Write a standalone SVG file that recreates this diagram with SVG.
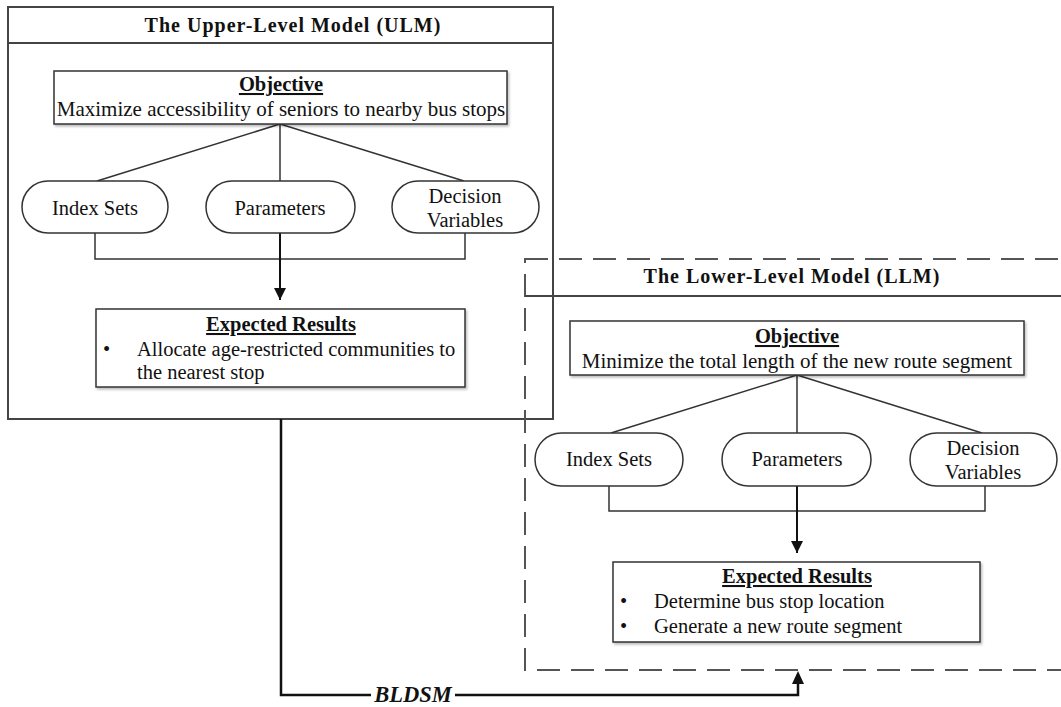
<svg xmlns="http://www.w3.org/2000/svg" width="1061" height="707" viewBox="0 0 1061 707">
<style>
text{font-family:"Liberation Serif","Times New Roman",serif;fill:#111;}
.title{font-size:20px;font-weight:bold;text-anchor:middle;letter-spacing:1px;}
.hd{font-size:20.5px;font-weight:bold;text-anchor:middle;text-decoration:underline;}
.body{font-size:20.5px;}
.obj{font-size:21px;}
.c{text-anchor:middle;}
.outer{fill:none;stroke:#444;stroke-width:2;}
.dash{fill:none;stroke:#555;stroke-width:2;stroke-dasharray:23 11;}
.box{fill:#fff;stroke:#333;stroke-width:1.5;filter:url(#sh);}
.pill{fill:#fff;stroke:#333;stroke-width:1.5;}
.ln{fill:none;stroke:#333;stroke-width:1.5;}
.arr{fill:none;stroke:#111;stroke-width:2;}
.big{fill:none;stroke:#111;stroke-width:2.5;}
</style>
<defs>
<filter id="sh" x="-5%" y="-10%" width="110%" height="130%">
<feDropShadow dx="1.5" dy="2" stdDeviation="1.2" flood-color="#000" flood-opacity="0.25"/>
</filter>
<marker id="ah" viewBox="0 0 10 10" refX="10" refY="5" markerWidth="6" markerHeight="6" orient="auto-start-reverse" markerUnits="strokeWidth">
<path d="M0,0 L10,5 L0,10 Z" fill="#111"/>
</marker>
</defs>
<rect width="1061" height="707" fill="#fff"/>

<g id="ulm">
<rect class="outer" x="8" y="7" width="545" height="412"/>
<line class="outer" x1="8" y1="43" x2="553" y2="43"/>
<text class="title" x="293" y="32">The Upper-Level Model (ULM)</text>
</g>

<g id="llm">
<rect class="dash" x="525" y="259" width="560" height="411"/>
<line class="outer" x1="525" y1="296" x2="1061" y2="296"/>
<text class="title" x="792" y="283">The Lower-Level Model (LLM)</text>
</g>

<g id="connectors">
<path class="ln" d="M280,124 L97,181 M280,124 L280,181 M280,124 L464,181"/>
<path class="ln" d="M95,233 V259 H465 V233"/>
<path class="arr" d="M280,233 V300" marker-end="url(#ah)"/>
<path class="ln" d="M797,375 L611,433 M797,375 L797,433 M797,375 L982,433"/>
<path class="ln" d="M609,486 V511 H985 V486"/>
<path class="arr" d="M797,486 V553" marker-end="url(#ah)"/>
<path class="big" d="M281,419 V695 H798 V682"/>
<path d="M792,684 L798,671 L804,684 Z" fill="#111"/>
<rect x="371" y="684" width="84" height="22" fill="#fff"/>
<text x="413" y="702" class="c" style="font-size:22.5px;font-weight:bold;font-style:italic;">BLDSM</text>
</g>

<g id="ulm-objective">
<rect class="box" x="54" y="71" width="453" height="53"/>
<text class="hd" x="281" y="91">Objective</text>
<text class="obj c" x="281" y="116">Maximize accessibility of seniors to nearby bus stops</text>
</g>
<g id="ulm-index">
<rect class="pill" x="22" y="181" width="146" height="52" rx="26"/>
<text class="body c" x="95" y="215">Index Sets</text>
</g>
<g id="ulm-params">
<rect class="pill" x="206" y="181" width="149" height="52" rx="26"/>
<text class="body c" x="280" y="215">Parameters</text>
</g>
<g id="ulm-decision">
<rect class="pill" x="392" y="181" width="147" height="52" rx="26"/>
<text class="body c" x="465" y="203">Decision</text>
<text class="body c" x="465" y="227">Variables</text>
</g>
<g id="ulm-results">
<rect class="box" x="96" y="309" width="369" height="78"/>
<text class="hd" x="281" y="331">Expected Results</text>
<text class="body" x="103" y="356">•</text>
<text class="body" x="137" y="356">Allocate age-restricted communities to</text>
<text class="body" x="137" y="379">the nearest stop</text>
</g>

<g id="llm-objective">
<rect class="box" x="570" y="321" width="454" height="54"/>
<text class="hd" x="797" y="343">Objective</text>
<text class="obj c" x="797" y="368">Minimize the total length of  the new route segment</text>
</g>
<g id="llm-index">
<rect class="pill" x="535" y="433" width="148" height="53" rx="26.5"/>
<text class="body c" x="609" y="466">Index Sets</text>
</g>
<g id="llm-params">
<rect class="pill" x="722" y="433" width="149" height="53" rx="26.5"/>
<text class="body c" x="797" y="466">Parameters</text>
</g>
<g id="llm-decision">
<rect class="pill" x="910" y="433" width="147" height="53" rx="26.5"/>
<text class="body c" x="983" y="455">Decision</text>
<text class="body c" x="983" y="479">Variables</text>
</g>
<g id="llm-results">
<rect class="box" x="613" y="562" width="367" height="80"/>
<text class="hd" x="797" y="583">Expected Results</text>
<text class="body" x="620" y="608">•</text>
<text class="body" x="654" y="608">Determine bus stop location</text>
<text class="body" x="620" y="633">•</text>
<text class="body" x="654" y="633">Generate a new route segment</text>
</g>
</svg>
